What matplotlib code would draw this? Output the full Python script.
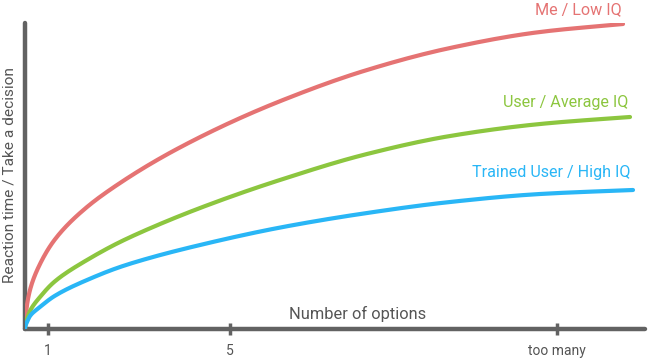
import matplotlib
matplotlib.use("Agg")
import matplotlib.pyplot as plt
import numpy as np

# data (x = number of options scale, y = reaction time)
red_x = [0, 1, 2, 5, 15, 28, 62, 95, 152, 258, 342, 425, 515, 598]
red_y = [0, 15, 24, 39, 65, 87, 122, 146, 180, 229, 259, 281, 297, 305]
green_x = [0, 2, 5, 15, 28, 62, 95, 128, 175, 258, 342, 425, 515, 605]
green_y = [0, 10, 18, 32, 46, 69, 87, 102, 121, 150, 175, 193, 205, 212]
blue_x = [0, 2, 5, 15, 28, 62, 95, 128, 175, 258, 342, 425, 515, 608]
blue_y = [0, 7, 13, 22, 32, 49, 62, 72, 84, 102, 116, 127, 135, 139]
tick_pos = [23, 205, 532]
tick_labels = ["1", "5", "too many"]
series_names = ["Me / Low IQ", "User / Average IQ", "Trained User / High IQ"]


def smooth_path(xs, ys, n=16):
    """Monotone cubic (PCHIP) drawing path, parameterised by sqrt(x)."""
    x = np.sqrt(np.asarray(xs, float))
    y = np.asarray(ys, float)
    h = np.diff(x)
    d = np.diff(y) / h
    m = np.zeros_like(x)
    for i in range(1, len(x) - 1):
        if d[i - 1] * d[i] > 0:
            w1 = 2 * h[i] + h[i - 1]
            w2 = h[i] + 2 * h[i - 1]
            m[i] = (w1 + w2) / (w1 / d[i - 1] + w2 / d[i])
    m[0] = d[0]
    m[-1] = d[-1]
    px, py = [], []
    for i in range(len(x) - 1):
        t = np.linspace(0, 1, n, endpoint=False)
        h00 = 2 * t**3 - 3 * t**2 + 1
        h10 = t**3 - 2 * t**2 + t
        h01 = -2 * t**3 + 3 * t**2
        h11 = t**3 - t**2
        px.extend((x[i] + t * h[i]) ** 2)
        py.extend(h00 * y[i] + h10 * h[i] * m[i] + h01 * y[i + 1] + h11 * h[i] * m[i + 1])
    px.append(x[-1] ** 2)
    py.append(y[-1])
    return px, py


plt.rcParams['font.family'] = ['Roboto', 'DejaVu Sans']
fig = plt.figure(figsize=(6.5, 3.6), dpi=100)
ax = fig.add_axes([25/650, 31/360, 620/650, 306/360])
ax.set_xlim(0, 620)
ax.set_ylim(0, 306)
ax.patch.set_alpha(0)

red, green, blue = '#e57373', '#8cc63f', '#29b6f6'
for xs, ys, c in [(red_x, red_y, red), (green_x, green_y, green), (blue_x, blue_y, blue)]:
    sx, sy = smooth_path(xs, ys)
    ax.plot(sx, sy, color=c, lw=3.0, solid_capstyle='round', solid_joinstyle='round', zorder=3)

axc = '#626262'
for s in ['top', 'right']:
    ax.spines[s].set_visible(False)
for s in ['left', 'bottom']:
    ax.spines[s].set_color(axc)
    ax.spines[s].set_linewidth(3.2)
    ax.spines[s].set_capstyle('round')

ax.set_yticks([])
ax.set_xticks(tick_pos)
ax.set_xticklabels(tick_labels, fontsize=10, color='#555555')
ax.tick_params(axis='x', direction='inout', length=9, width=2.5, color=axc, pad=6)

ax.text(333, 7, "Number of options", ha='center', va='bottom', fontsize=11.8, color='#555555')
fig.text(10/650, 1 - 175/360, "Reaction time / Take a decision", rotation=90,
         ha='center', va='center', fontsize=11.1, color='#555555')

label_specs = [(597, 319, red), (603, 227, green), (605, 157, blue)]
for name, (x, y, c) in zip(series_names, label_specs):
    ax.text(x, y, name, ha='right', va='center', fontsize=11.6, color=c, clip_on=False)

fig.savefig("out.png", dpi=100)
